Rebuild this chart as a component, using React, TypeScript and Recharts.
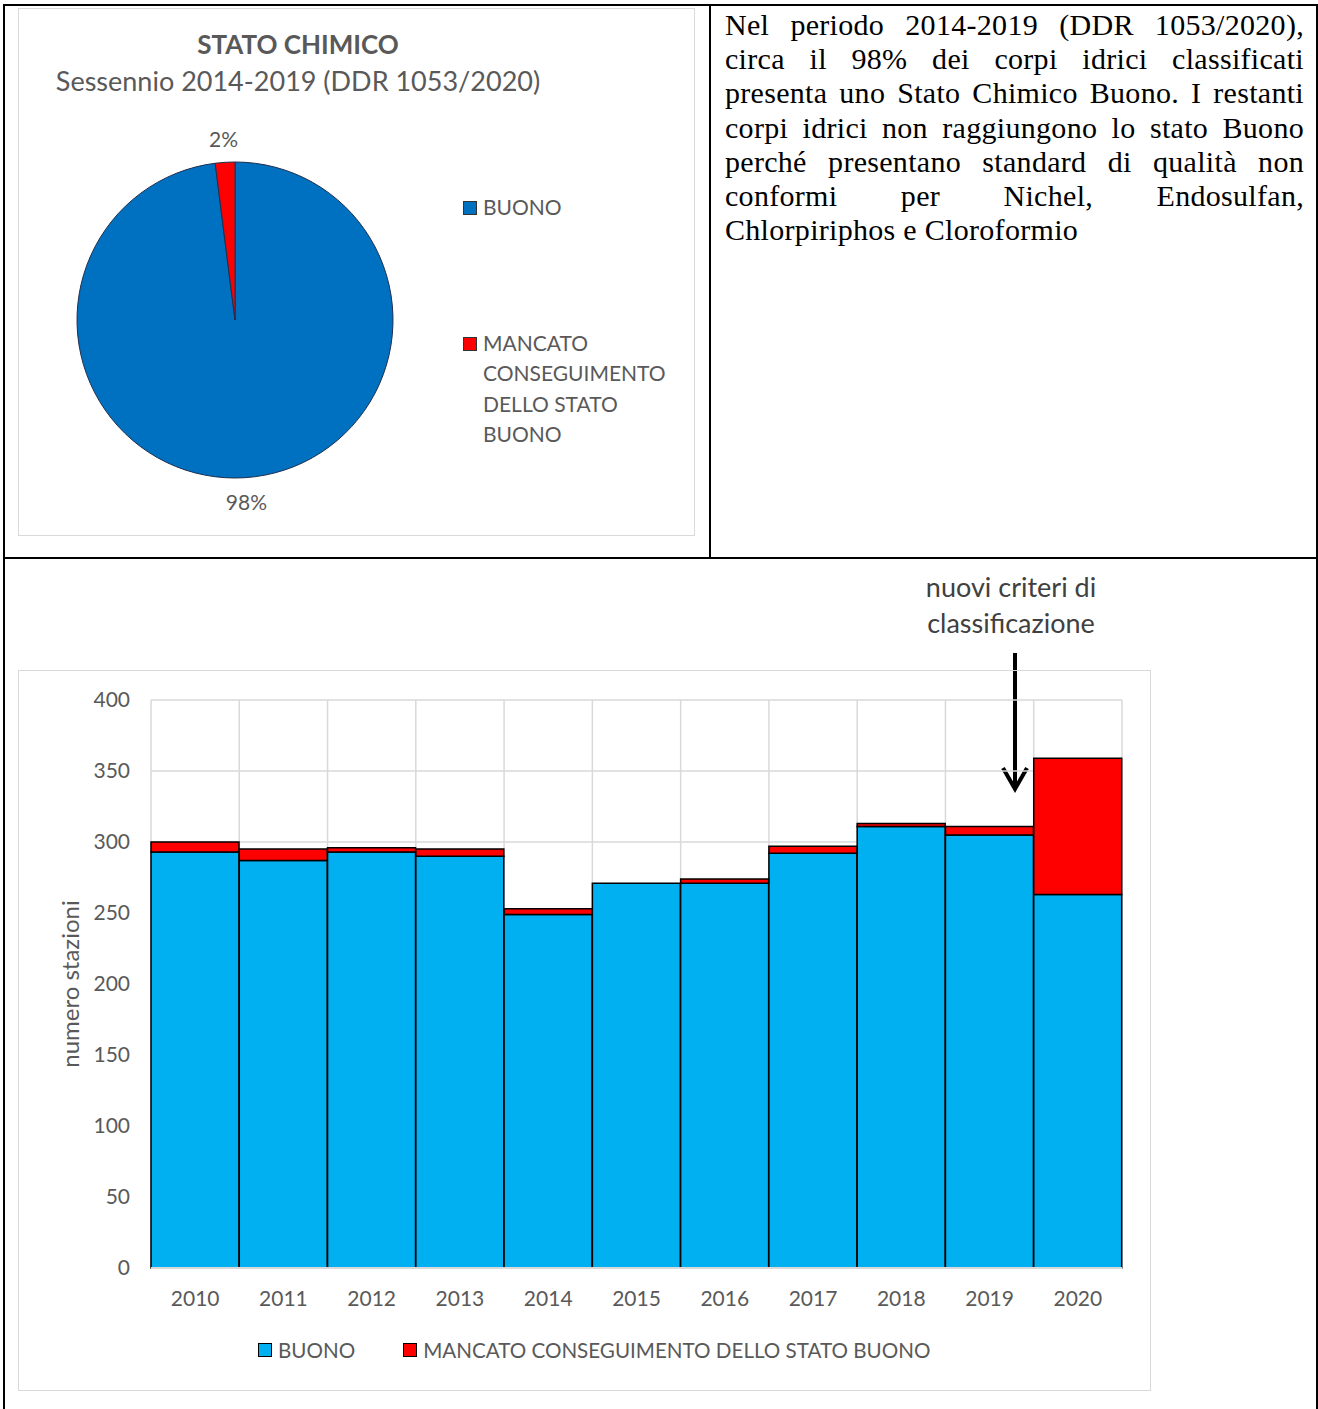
import React from 'react';
import {
  PieChart, Pie, Cell, BarChart, Bar, XAxis, YAxis, CartesianGrid, Legend,
} from 'recharts';

// pie: sessennio 2014-2019
const pieNames = ['BUONO', 'MANCATO CONSEGUIMENTO DELLO STATO BUONO'];
const pieValues = [98, 2];
const pieColors = ['#0070C0', '#FF0000'];

// bar: numero stazioni per anno
const years = ['2010', '2011', '2012', '2013', '2014', '2015', '2016', '2017', '2018', '2019', '2020'];
const buono = [293, 287, 293, 290, 249, 271, 271, 292, 311, 305, 263];
const mancato = [7, 8, 3, 5, 4, 0, 3, 5, 2, 6, 96];
const yTicks = [0, 50, 100, 150, 200, 250, 300, 350, 400];

const textLines = [
  'Nel periodo 2014-2019 (DDR 1053/2020),',
  'circa il 98% dei corpi idrici classificati',
  'presenta uno Stato Chimico Buono. I restanti',
  'corpi idrici non raggiungono lo stato Buono',
  'perché presentano standard di qualità non',
  'conformi per Nichel, Endosulfan,',
  'Chlorpiriphos e Cloroformio',
];

const FONT = 'Lato, "Open Sans", sans-serif';
const GRAY = '#595959';
const RADIAN = Math.PI / 180;

const pieData = pieNames.map((name, i) => ({ name, value: pieValues[i], color: pieColors[i] }));
const barData = years.map((year, i) => ({ year, buono: buono[i], mancato: mancato[i] }));

const renderPieLabel = (props: any) => {
  const { cx, cy, midAngle, outerRadius, percent } = props;
  const r = outerRadius + 24;
  const x = cx + r * Math.cos(-midAngle * RADIAN);
  const y = cy + r * Math.sin(-midAngle * RADIAN);
  return (
    <text x={x} y={y} fill={GRAY} fontSize={21} fontFamily={FONT} textAnchor="middle" dominantBaseline="central">
      {`${Math.round(percent * 100)}%`}
    </text>
  );
};

const PieLegend = () => (
  <div style={{ fontFamily: FONT, fontSize: 21, color: GRAY, lineHeight: '30.5px' }}>
    {pieData.map((d, i) => (
      <div key={d.name} style={{ display: 'flex', alignItems: 'flex-start', marginBottom: i === 0 ? 105 : 0 }}>
        <span style={{ width: 12, height: 12, background: d.color, border: '1px solid #333', marginTop: 9, marginRight: 6, flexShrink: 0 }} />
        <span style={{ width: 190 }}>{d.name}</span>
      </div>
    ))}
  </div>
);

const BarLegend = () => (
  <div style={{ display: 'flex', alignItems: 'center', paddingLeft: 239, fontFamily: FONT, fontSize: 20.6, color: GRAY }}>
    <span style={{ width: 12, height: 12, background: '#00B0F0', border: '1px solid #000', marginRight: 6 }} />
    <span style={{ marginRight: 48 }}>BUONO</span>
    <span style={{ width: 12, height: 12, background: '#FF0000', border: '1px solid #000', marginRight: 6 }} />
    <span>MANCATO CONSEGUIMENTO DELLO STATO BUONO</span>
  </div>
);

const YLabel = (props: any) => {
  const { viewBox } = props;
  const x = viewBox.x + 50;
  const y = viewBox.y + viewBox.height / 2;
  return (
    <text x={x} y={y} transform={`rotate(-90, ${x}, ${y})`} textAnchor="middle" dominantBaseline="central"
      fill={GRAY} fontSize={24} fontFamily={FONT}>
      numero stazioni
    </text>
  );
};

const App: React.FC = () => {
  const n = years.length;
  return (
    <div style={{ position: 'absolute', left: 0, top: 0, width: 1318, height: 1409, background: '#fff', overflow: 'hidden' }}>
      {/* table lines */}
      <div style={{ position: 'absolute', left: 3, top: 4, width: 1315, height: 1440, border: '2px solid #000', boxSizing: 'border-box' }} />
      <div style={{ position: 'absolute', left: 709, top: 4, width: 2, height: 555, background: '#000' }} />
      <div style={{ position: 'absolute', left: 3, top: 557, width: 1315, height: 2, background: '#000' }} />

      {/* pie panel */}
      <div style={{ position: 'absolute', left: 18, top: 8, width: 677, height: 528, border: '1px solid #D9D9D9', boxSizing: 'border-box' }}>
        <div style={{ position: 'absolute', left: 0, top: 19, width: 558, textAlign: 'center', fontFamily: FONT, fontWeight: 700, fontSize: 26, color: GRAY }}>
          STATO CHIMICO
        </div>
        <div style={{ position: 'absolute', left: 0, top: 55, width: 558, textAlign: 'center', fontFamily: FONT, fontSize: 27, color: GRAY }}>
          Sessennio 2014-2019 (DDR 1053/2020)
        </div>
        <PieChart width={675} height={526}>
          <Pie
            data={pieData}
            dataKey="value"
            nameKey="name"
            cx={211}
            cy={306}
            outerRadius={158}
            startAngle={90}
            endAngle={-270}
            label={renderPieLabel}
            labelLine={false}
            isAnimationActive={false}
          >
            {pieData.map((d) => (
              <Cell key={d.name} fill={d.color} stroke="#1F2F4F" strokeWidth={1} />
            ))}
          </Pie>
          <Legend content={<PieLegend />} wrapperStyle={{ left: 444, top: 183, width: 230 }} />
        </PieChart>
      </div>

      {/* text cell */}
      <div style={{ position: 'absolute', left: 725, top: 8, width: 579, fontFamily: '"Liberation Serif", serif', fontSize: 30, letterSpacing: 0.3, lineHeight: '34.2px', color: '#000' }}>
        {textLines.map((line, i) => (
          <div key={i} style={{ textAlign: 'justify', textAlignLast: i < textLines.length - 1 ? 'justify' : 'left', whiteSpace: 'nowrap' }}>
            {line}
          </div>
        ))}
      </div>

      {/* annotation */}
      <div style={{ position: 'absolute', left: 891, top: 569, width: 240, textAlign: 'center', fontFamily: FONT, fontSize: 27, lineHeight: '36px', color: '#404040' }}>
        nuovi criteri di<br />classificazione
      </div>
      <svg style={{ position: 'absolute', left: 995, top: 650, overflow: 'visible' }} width={40} height={145}>
        <line x1={20} y1={3} x2={20} y2={137} stroke="#000" strokeWidth={4} />
        <path d="M8,118 L20,139 L32,118" fill="none" stroke="#000" strokeWidth={4} strokeLinejoin="miter" />
      </svg>

      {/* bar panel */}
      <div style={{ position: 'absolute', left: 18, top: 670, width: 1133, height: 721, border: '1px solid #D9D9D9', boxSizing: 'border-box' }}>
        <BarChart
          width={1131}
          height={719}
          data={barData}
          barCategoryGap={0}
          barGap={0}
          margin={{ top: 29, right: 28, left: 0, bottom: 0 }}
        >
          <CartesianGrid
            stroke="#D9D9D9"
            strokeWidth={1.5}
            verticalCoordinatesGenerator={({ offset }: any) =>
              Array.from({ length: n + 1 }, (_, i) => offset.left + (i * offset.width) / n)
            }
          />
          <XAxis
            dataKey="year"
            height={92}
            tickLine={false}
            axisLine={{ stroke: '#D9D9D9', strokeWidth: 2 }}
            tickSize={0}
            tickMargin={23}
            tick={{ fill: GRAY, fontSize: 21, fontFamily: FONT }}
          />
          <YAxis
            width={132}
            domain={[0, 400]}
            ticks={yTicks}
            tickLine={false}
            axisLine={false}
            tickSize={0}
            tickMargin={21}
            tick={{ fill: GRAY, fontSize: 21, fontFamily: FONT }}
            label={<YLabel />}
          />
          <Legend verticalAlign="bottom" height={30} content={<BarLegend />} wrapperStyle={{ top: 667, left: 0, width: 1131 }} />
          <Bar dataKey="buono" name="BUONO" stackId="a" fill="#00B0F0" stroke="#000" strokeWidth={1.5} isAnimationActive={false} />
          <Bar dataKey="mancato" name="MANCATO CONSEGUIMENTO DELLO STATO BUONO" stackId="a" fill="#FF0000" stroke="#000" strokeWidth={1.5} isAnimationActive={false} />
        </BarChart>
      </div>
    </div>
  );
};

export default App;
